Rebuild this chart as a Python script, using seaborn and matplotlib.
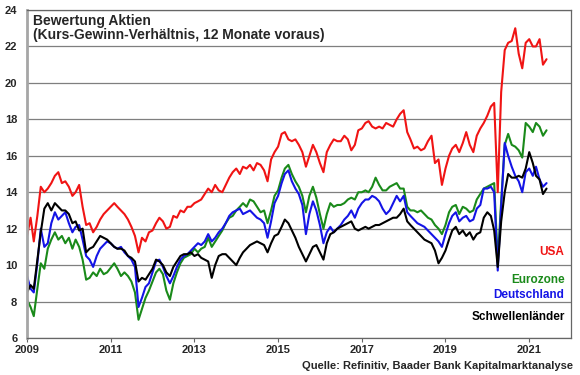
import pandas as pd
import seaborn as sns
import matplotlib.pyplot as plt
import matplotlib.dates as mdates

# Monatswerte KGV (12 Monate voraus), Jan 2009 - Jun 2021
usa = [11.6, 12.6, 11.3, 12.7, 14.3, 14.0, 14.2, 14.5, 14.9, 15.1, 14.5, 14.6,
       14.3, 13.8, 14.0, 14.4, 13.2, 12.2, 12.3, 11.8, 12.1, 12.5, 12.8, 13.0,
       13.2, 13.4, 13.2, 13.0, 12.8, 12.5, 12.1, 11.6, 10.7, 11.5, 11.3, 11.8,
       11.9, 12.3, 12.6, 12.4, 12.0, 12.1, 12.7, 12.6, 13.0, 12.9, 13.2, 13.2,
       13.4, 13.5, 13.6, 13.9, 14.2, 14.0, 14.4, 14.1, 14.0, 14.4, 14.8, 15.1,
       15.3, 15.0, 15.4, 15.3, 15.5, 15.2, 15.6, 15.5, 15.2, 14.6, 15.8, 16.2,
       16.5, 17.2, 17.3, 16.9, 16.8, 16.9, 16.6, 16.2, 15.4, 16.0, 16.6, 16.2,
       15.6, 15.1, 16.2, 16.6, 16.9, 16.8, 16.8, 17.1, 16.9, 16.3, 16.6, 17.4,
       17.5, 17.8, 17.9, 17.6, 17.5, 17.6, 17.5, 17.8, 17.7, 17.6, 18.0, 18.3,
       18.5, 17.3, 16.9, 16.4, 16.5, 16.3, 16.4, 16.8, 17.1, 15.6, 15.8, 14.4,
       15.3, 16.0, 16.4, 16.6, 16.2, 16.7, 17.3, 16.6, 16.2, 17.1, 17.5, 17.8,
       18.2, 18.7, 18.9, 14.0, 19.5, 21.8, 22.2, 22.3, 23.0, 21.6, 20.8, 22.2,
       22.4, 22.0, 22.0, 22.4, 21.0, 21.3]

eurozone = [8.1, 7.7, 7.2, 8.7, 10.1, 9.8, 10.9, 11.4, 11.8, 11.4, 11.6, 11.2,
            11.5, 10.9, 11.4, 11.0, 10.3, 9.2, 9.3, 9.6, 9.4, 9.8, 9.5, 9.6,
            9.85, 10.1, 9.8, 9.4, 9.6, 9.4, 9.1, 8.5, 7.0, 7.6, 8.2, 8.6,
            9.1, 9.6, 9.8, 9.5, 8.6, 8.1, 9.0, 9.6, 10.1, 10.4, 10.5, 10.6,
            10.9, 10.7, 10.9, 11.0, 11.5, 11.0, 11.3, 11.6, 11.9, 12.3, 12.6, 12.7,
            13.0, 13.2, 13.4, 13.2, 13.6, 13.5, 13.2, 12.9, 13.0, 12.3, 13.0, 13.8,
            14.1, 14.8, 15.3, 15.5, 15.0, 14.6, 14.3, 13.8, 12.9, 13.8, 14.3, 13.7,
            12.8, 12.0, 12.8, 13.4, 13.2, 13.3, 13.3, 13.4, 13.6, 13.7, 13.6, 14.0,
            14.0, 14.1, 14.0, 14.3, 14.8, 14.4, 14.1, 14.1, 14.3, 14.4, 14.5, 14.2,
            14.2, 13.2, 13.0, 13.0, 12.9, 13.0, 12.8, 12.6, 12.5, 12.2, 12.0, 11.7,
            12.2, 12.9, 13.2, 13.3, 12.8, 13.2, 13.1, 12.9, 13.0, 13.6, 13.9, 14.2,
            14.3, 14.4, 14.5, 10.2, 13.5, 16.6, 17.2, 16.6, 16.5, 16.3, 15.9, 17.8,
            17.6, 17.3, 17.8, 17.6, 17.1, 17.4]

deutschland = [9.4, 8.7, 8.5, 10.1, 12.0, 11.0, 11.2, 12.3, 12.9, 12.5, 12.7, 12.9,
               12.3, 11.8, 12.1, 12.2, 11.4, 10.5, 10.3, 9.9, 10.5, 10.9, 11.1, 11.3,
               11.2, 11.0, 10.9, 11.0, 10.7, 10.5, 10.3, 9.9, 7.7, 8.2, 8.8, 9.0,
               9.6, 10.2, 10.3, 9.9, 9.4, 9.0, 9.4, 9.9, 10.3, 10.5, 10.6, 10.8,
               11.0, 11.2, 11.1, 11.3, 11.7, 11.3, 11.5, 11.8, 12.0, 12.3, 12.7, 12.9,
               13.0, 13.1, 12.8, 12.9, 13.0, 12.8, 12.6, 12.5, 12.3, 11.5, 12.4, 13.4,
               13.8, 14.5, 15.0, 15.2, 14.6, 14.2, 13.9, 13.3, 11.7, 12.8, 13.5, 13.0,
               12.2, 11.2, 11.8, 12.1, 11.8, 12.0, 12.2, 12.5, 12.7, 13.0, 12.6, 13.1,
               13.4, 13.6, 13.6, 13.8, 13.7, 13.5, 13.1, 12.8, 13.0, 13.4, 13.8, 13.5,
               13.8, 12.9, 12.7, 12.5, 12.3, 12.2, 12.1, 11.9, 11.7, 11.5, 11.3, 11.0,
               11.7, 12.3, 12.7, 12.9, 12.4, 12.6, 12.7, 12.4, 12.5, 13.1, 13.3, 14.2,
               14.2, 14.3, 14.0, 9.7, 13.2, 16.7, 16.0, 15.4, 14.9, 14.6, 14.0, 15.1,
               15.3, 14.9, 15.4, 14.7, 14.3, 14.5]

schwellenlaender = [8.5, 8.9, 8.7, 10.3, 11.8, 13.1, 13.4, 13.0, 13.4, 13.2, 13.0, 13.0,
                    12.8, 12.3, 12.4, 11.9, 12.0, 10.7, 10.9, 11.0, 11.3, 11.6, 11.5, 11.4,
                    11.2, 11.0, 10.9, 10.9, 10.8, 10.5, 10.4, 10.2, 9.1, 9.3, 9.2, 9.5,
                    9.8, 10.3, 10.2, 10.0, 9.6, 9.4, 9.9, 10.2, 10.5, 10.6, 10.6, 10.7,
                    10.5, 10.6, 10.4, 10.3, 10.2, 9.3, 10.0, 10.5, 10.6, 10.6, 10.4, 10.2,
                    10.0, 10.4, 10.7, 10.9, 11.1, 11.2, 11.3, 11.2, 11.1, 10.7, 11.2, 11.6,
                    11.7, 12.1, 12.5, 12.3, 11.9, 11.5, 11.0, 10.6, 10.2, 10.6, 11.0, 11.1,
                    10.7, 10.3, 11.2, 11.7, 11.8, 12.0, 12.1, 12.2, 12.3, 12.4, 12.0, 11.9,
                    12.0, 12.1, 12.0, 12.1, 12.2, 12.2, 12.3, 12.4, 12.5, 12.6, 12.6, 12.8,
                    13.1, 12.4, 12.2, 12.0, 11.8, 11.6, 11.4, 11.3, 11.2, 10.8, 10.1, 10.4,
                    10.8, 11.4, 11.9, 12.1, 11.7, 11.9, 11.6, 11.8, 11.4, 11.7, 11.8, 12.6,
                    12.9, 12.7, 11.9, 9.9, 12.4, 14.0, 15.0, 14.8, 14.8, 14.9, 14.8, 15.3,
                    16.2, 15.6, 14.9, 14.7, 13.9, 14.2]

regionen = ["USA", "Eurozone", "Deutschland", "Schwellenländer"]
farben = ["#f01414", "#1a8a1a", "#1414e6", "#000000"]
y_ticks = [6, 8, 10, 12, 14, 16, 18, 20, 22, 24]
x_jahre = [2009, 2011, 2013, 2015, 2017, 2019, 2021]

datum = pd.date_range("2009-01-01", periods=len(usa), freq="MS")
df = pd.DataFrame({
    "datum": list(datum) * 4,
    "kgv": usa + eurozone + deutschland + schwellenlaender,
    "region": [r for r in regionen for _ in range(len(usa))],
})

sns.set_theme(style="white")
plt.rcParams["font.family"] = ["Liberation Sans", "DejaVu Sans"]
plt.rcParams["font.weight"] = "bold"

fig = plt.figure(figsize=(5.8, 3.75), dpi=100)
ax = fig.add_axes([0.0466, 0.0987, 0.938, 0.8746])

sns.lineplot(data=df, x="datum", y="kgv", hue="region", hue_order=regionen,
             palette=farben, linewidth=1.5, legend=False, ax=ax)

ax.set_xlim(pd.Timestamp("2009-01-01"), pd.Timestamp("2022-01-01"))
ax.set_ylim(6, 24)
ax.set_yticks(y_ticks)
ax.set_xticks([pd.Timestamp(f"{j}-01-01") for j in x_jahre])
ax.xaxis.set_major_formatter(mdates.DateFormatter("%Y"))
ax.set_xlabel("")
ax.set_ylabel("")
ax.yaxis.grid(True, color="#7f7f7f", linewidth=0.9)
ax.set_axisbelow(True)

for name in ["top", "right", "bottom"]:
    ax.spines[name].set_color("#666666")
    ax.spines[name].set_linewidth(0.9)
ax.spines["left"].set_color("#a6a6a6")
ax.spines["left"].set_linewidth(2)

ax.tick_params(axis="y", length=0, pad=7, labelsize=8)
ax.tick_params(axis="x", length=3, width=0.8, color="#666666",
               direction="out", pad=2, labelsize=8, bottom=True)
for lbl in ax.get_xticklabels() + ax.get_yticklabels():
    lbl.set_fontweight("bold")

# Titel im Diagramm
ax.text(0.011, 0.988, "Bewertung Aktien", transform=ax.transAxes,
        fontsize=10, fontweight="bold", ha="left", va="top")
ax.text(0.011, 0.945, "(Kurs-Gewinn-Verhältnis, 12 Monate voraus)",
        transform=ax.transAxes, fontsize=10, fontweight="bold", ha="left", va="top")

# Beschriftung der Linien
for name, farbe, y in zip(regionen, farben, [10.7, 9.2, 8.35, 7.15]):
    ax.text(0.988, y, name, transform=ax.get_yaxis_transform(), color=farbe,
            fontsize=8.5, fontweight="bold", ha="right", va="center")

fig.text(0.988, 0.024, "Quelle: Refinitiv, Baader Bank Kapitalmarktanalyse",
         fontsize=8, fontweight="bold", ha="right", va="center")

fig.savefig("out.png", dpi=100)
